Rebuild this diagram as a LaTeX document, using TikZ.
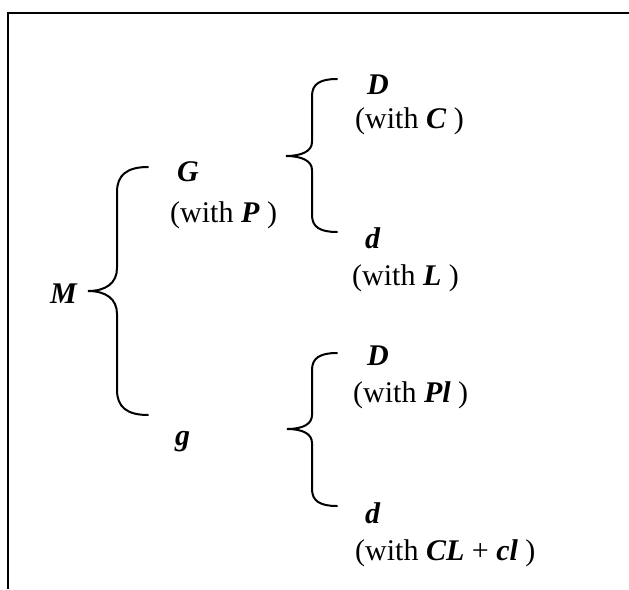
\documentclass[tikz,border=0pt]{standalone}
\usepackage{fontspec}
\setmainfont{Liberation Serif}
\newcommand\bi[1]{\textbf{\textit{#1}}}
\begin{document}
\begin{tikzpicture}[x=1pt,y=-1pt,
  lbl/.style={anchor=base west, inner sep=0pt, font=\fontsize{30}{36}\selectfont},
  bracestroke/.style={line width=2pt, line cap=round},
  framestroke/.style={line width=2pt}]
\useasboundingbox (0,0) rectangle (629,589);
% frame (top and left edges only)
\coordinate (f1) at (7.5,589);
\coordinate (f2) at (7.5,12.5);
\coordinate (f3) at (629,12.5);
\draw[framestroke] (f1) -- (f2) -- (f3);

% texts
\node[lbl] (M) at (50,303) {\bi{M}};
\node[lbl] (G) at (177,181) {\bi{G}};
\node[lbl] (Gw) at (170,222) {(with \bi{P} )};
\node[lbl] (g) at (175,445) {\bi{g}};
\node[lbl] (D1) at (367,94) {\bi{D}};
\node[lbl] (D1w) at (355,128) {(with \bi{C} )};
\node[lbl] (d1) at (365,248) {\bi{d}};
\node[lbl] (d1w) at (352,285) {(with \bi{L} )};
\node[lbl] (D2) at (367,365) {\bi{D}};
\node[lbl] (D2w) at (353,402) {(with \bi{Pl} )};
\node[lbl] (d2) at (365,523) {\bi{d}};
\node[lbl] (d2w) at (355,560) {(with \bi{CL} + \bi{cl} )};

% big brace (M -> G, g)
\draw[bracestroke] (148,167) .. controls (127,167) and (117,175) .. (117,192)
  -- (117,268) .. controls (117,283) and (106,291) .. (88,291)
  .. controls (106,291) and (117,299) .. (117,314)
  -- (117,390) .. controls (117,407) and (127,415) .. (148,415);

% upper small brace (G -> D, d)
\draw[bracestroke] (337,79) .. controls (320,79) and (312,84) .. (312,96)
  -- (312,142) .. controls (312,151) and (302,156) .. (286,156)
  .. controls (302,156) and (312,161) .. (312,170)
  -- (312,215) .. controls (312,227) and (320,232) .. (337,232);

% lower small brace (g -> D, d)
\draw[bracestroke] (337,353) .. controls (320,353) and (312,358) .. (312,370)
  -- (312,415) .. controls (312,424) and (303,429) .. (287,429)
  .. controls (303,429) and (312,434) .. (312,443)
  -- (312,489) .. controls (312,501) and (320,506) .. (337,506);
\end{tikzpicture}
\end{document}
